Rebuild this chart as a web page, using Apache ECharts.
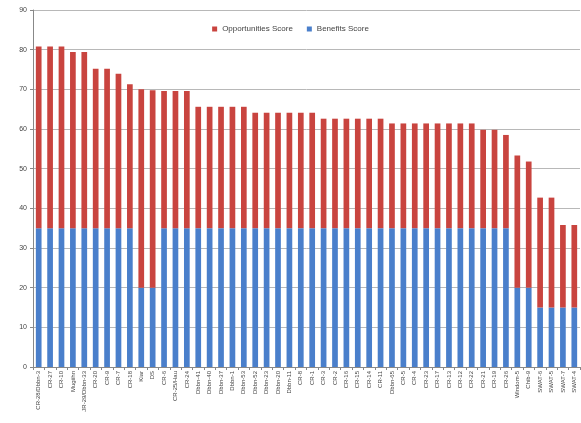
<!DOCTYPE html>
<html>
<head>
<meta charset="utf-8">
<script src="https://cdn.jsdelivr.net/npm/echarts@6/dist/echarts.min.js"></script>
<style>html,body{margin:0;padding:0;background:#fff}#c{width:581px;height:423px}</style>
</head>
<body>
<div id="c"></div>
<script>
const categories = ["CR-28/Dbbn-3","CR-27","CR-10","Mugiihn","JR-29/Dbbn-33","CR-20","CR-9","CR-7","CR-18","Kiar","DS","CR-6","CR-25/Hau","CR-24","Dbbn-41","Dbbn-40","Dbbn-37","Dbbn-1","Dbbn-53","Dbbn-52","Dbbn-23","Dbbn-20","Dbbn-11","CR-8","CR-1","CR-3","CR-2","CR-16","CR-15","CR-14","CR-11","Dbbn-65","CR-5","CR-4","CR-23","CR-17","CR-13","CR-12","CR-22","CR-21","CR-19","CR-26","Windom-5","Chib-9","SWAT-6","SWAT-5","SWAT-7","SWAT-4"];
const benefitsScore = [35,35,35,35,35,35,35,35,35,20,20,35,35,35,35,35,35,35,35,35,35,35,35,35,35,35,35,35,35,35,35,35,35,35,35,35,35,35,35,35,35,35,20,20,15,15,15,15];
const opportunitiesScore = [45.8,45.8,45.8,44.4,44.4,40.2,40.2,38.9,36.3,50.0,49.8,34.6,34.6,34.6,30.6,30.6,30.6,30.6,30.6,29.1,29.1,29.1,29.1,29.1,29.1,27.6,27.6,27.6,27.6,27.6,27.6,26.4,26.4,26.4,26.4,26.4,26.4,26.4,26.4,24.8,24.8,23.5,33.3,31.8,27.7,27.7,20.8,20.8];
const yTicks = {min:0, max:90, interval:10};

const chart = echarts.init(document.getElementById('c'), null, {renderer:'canvas'});
chart.setOption({
  animation:false,
  backgroundColor:'#fff',
  legend:{
    top:20, left:'center', itemWidth:5, itemHeight:5, itemGap:14,
    icon:'rect',
    textStyle:{fontSize:8, color:'#444', fontFamily:'Liberation Sans'},
    data:['Opportunities Score','Benefits Score']
  },
  grid:{left:33, right:1, top:10, bottom:56, containLabel:false},
  xAxis:{
    type:'category', data:categories,
    axisLine:{lineStyle:{color:'#888'}},
    axisTick:{show:true, alignWithLabel:false, length:3, lineStyle:{color:'#888'}},
    axisLabel:{rotate:90, interval:0, fontSize:6, color:'#444', fontFamily:'Liberation Sans', margin:4}
  },
  yAxis:{
    type:'value', min:yTicks.min, max:yTicks.max, interval:yTicks.interval,
    axisLine:{show:true, lineStyle:{color:'#888'}},
    axisTick:{show:true, length:3, lineStyle:{color:'#888'}},
    axisLabel:{fontSize:7, color:'#444', fontFamily:'Liberation Sans', margin:6},
    splitLine:{lineStyle:{color:'#b8b8b8'}}
  },
  series:[
    {name:'Benefits Score', type:'bar', stack:'s', data:benefitsScore, barCategoryGap:'50%', itemStyle:{color:'#4a7fcb'}},
    {name:'Opportunities Score', type:'bar', stack:'s', data:opportunitiesScore, barCategoryGap:'50%', itemStyle:{color:'#c9443f'}}
  ]
});
</script>
</body>
</html>
